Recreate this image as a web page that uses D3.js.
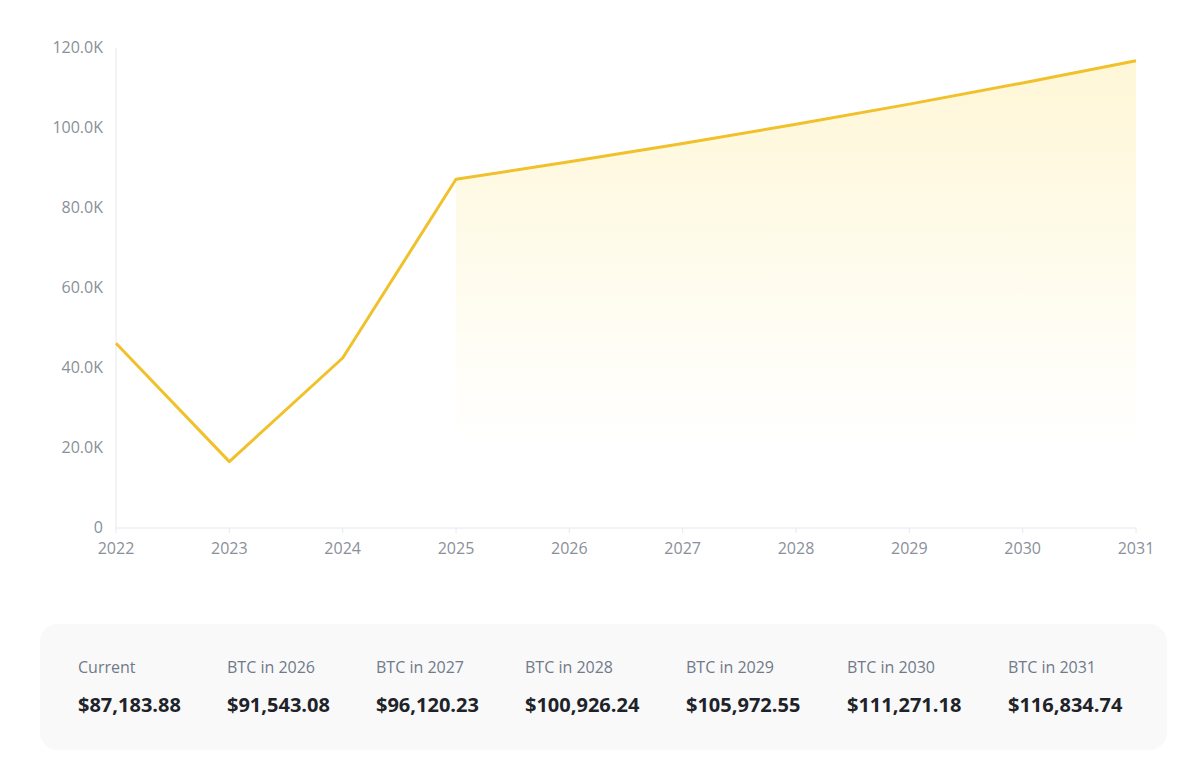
<!DOCTYPE html>
<html><head><meta charset="utf-8">
<script src="https://cdn.jsdelivr.net/npm/d3@7"></script>
<style>
body{margin:0;background:#fff;font-family:"Open Sans","Noto Sans",sans-serif;}
</style></head>
<body><svg id="c" width="1200" height="772"></svg>
<script>
const years = [2022, 2023, 2024, 2025, 2026, 2027, 2028, 2029, 2030, 2031];
const prices = [46200, 16600, 42500, 87183.88, 91543.08, 96120.23, 100926.24, 105972.55, 111271.18, 116834.74];
const yTicks = [0, 20000, 40000, 60000, 80000, 100000, 120000];
const cardLabels = ["Current", "BTC in 2026", "BTC in 2027", "BTC in 2028", "BTC in 2029", "BTC in 2030", "BTC in 2031"];
const cardValues = ["$87,183.88", "$91,543.08", "$96,120.23", "$100,926.24", "$105,972.55", "$111,271.18", "$116,834.74"];
const cardX = [78, 227, 376, 525, 686, 847, 1008];

const svg = d3.select('#c');
const x = d3.scaleLinear().domain([2022, 2031]).range([116, 1136]);
const y = d3.scaleLinear().domain([0, 120000]).range([528, 48]);

const defs = svg.append('defs');
const grad = defs.append('linearGradient').attr('id', 'g').attr('x1', 0).attr('x2', 0).attr('y1', 0).attr('y2', 1)
    .attr('gradientUnits', 'userSpaceOnUse').attr('y1', 60).attr('y2', 445);
grad.append('stop').attr('offset', 0).attr('stop-color', '#fcd535').attr('stop-opacity', 0.2);
grad.append('stop').attr('offset', 1).attr('stop-color', '#fcd535').attr('stop-opacity', 0);

const pts = years.map((d, i) => [d, prices[i]]);
const future = pts.filter(d => d[0] >= 2025);

svg.append('path')
    .attr('d', d3.area().x(d => x(d[0])).y0(y(0)).y1(d => y(d[1]))(future))
    .attr('fill', 'url(#g)');

// axes
svg.append('line').attr('x1', 116).attr('x2', 116).attr('y1', 48).attr('y2', 528).attr('stroke', '#e6e8ea');
svg.append('line').attr('x1', 116).attr('x2', 1136).attr('y1', 528).attr('y2', 528).attr('stroke', '#e6e8ea');
svg.selectAll('.xt').data(years).join('line')
    .attr('x1', d => x(d)).attr('x2', d => x(d)).attr('y1', 528).attr('y2', 533).attr('stroke', '#e6e8ea');
svg.selectAll('.xl').data(years).join('text')
    .attr('x', d => x(d)).attr('y', 554).attr('text-anchor', 'middle')
    .attr('font-size', 16).attr('fill', '#8a8f99').text(d => d);
svg.selectAll('.yl').data(yTicks).join('text')
    .attr('x', 103).attr('y', d => y(d) + 5).attr('text-anchor', 'end')
    .attr('font-size', 16).attr('fill', '#8a8f99')
    .text(d => d === 0 ? '0' : (d / 1000).toFixed(1) + 'K');

svg.append('path')
    .attr('d', d3.line().x(d => x(d[0])).y(d => y(d[1]))(pts))
    .attr('fill', 'none').attr('stroke', '#f0c12b').attr('stroke-width', 3).attr('stroke-linejoin', 'round');

// summary card
svg.append('rect').attr('x', 40).attr('y', 624).attr('width', 1127).attr('height', 126).attr('rx', 18).attr('fill', '#f9f9f9');
svg.selectAll('.cl').data(cardLabels).join('text')
    .attr('x', (d, i) => cardX[i]).attr('y', 673).attr('font-size', 16).attr('fill', '#707a8a').text(d => d);
svg.selectAll('.cv').data(cardValues).join('text')
    .attr('x', (d, i) => cardX[i]).attr('y', 712).attr('font-size', 20).attr('font-weight', 700).attr('fill', '#1e2329').text(d => d);
</script></body></html>
